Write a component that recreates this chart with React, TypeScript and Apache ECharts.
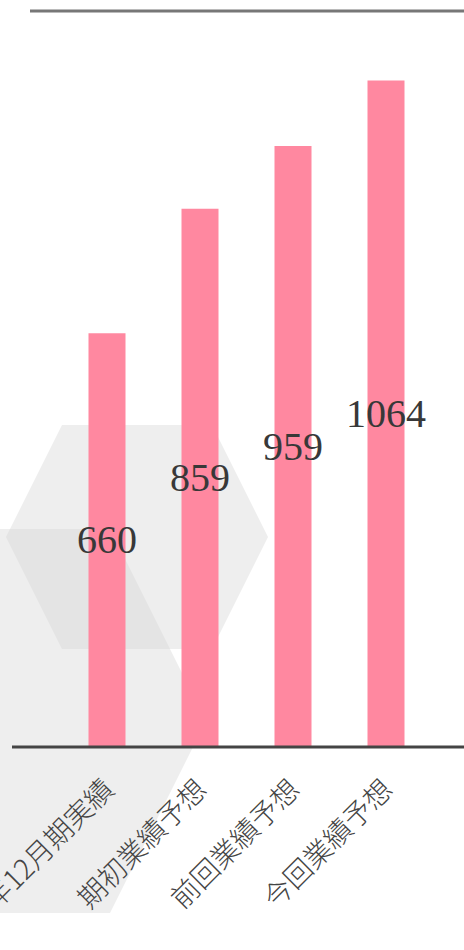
import React, { useEffect, useRef } from "react";
import * as echarts from "echarts";

const categories = ["2023年12月期実績", "期初業績予想", "前回業績予想", "今回業績予想"];
const values = [660, 859, 959, 1064];
const yMax = 1175;

export default function App() {
  const ref = useRef<HTMLDivElement>(null);
  useEffect(() => {
    const el = ref.current!;
    const chart = echarts.init(el, undefined, { renderer: "svg" });
    const hexA = [[6, 537], [62, 425], [212, 425], [268, 537], [212, 649], [62, 649]];
    const hexB = [[-242, 721], [-146, 529], [110, 529], [206, 721], [110, 913], [-146, 913]];
    const overlap = [[10, 529], [110, 529], [170, 649], [62, 649], [6, 537]];
    chart.setOption({
      animation: false,
      backgroundColor: "#ffffff",
      grid: { left: 60.5, right: 31.5, top: 11, bottom: 204, containLabel: false, outerBoundsMode: "none" },
      xAxis: {
        type: "category",
        data: categories,
        axisLine: { show: false },
        axisTick: { show: false },
        axisLabel: {
          rotate: 45,
          interval: 0,
          margin: 37,
          color: "#444444",
          fontSize: 28,
          fontWeight: 300,
          fontFamily: "Noto Sans CJK JP",
        },
      },
      yAxis: {
        type: "value",
        min: 0,
        max: yMax,
        show: false,
        splitLine: { show: false },
      },
      graphic: [
        { type: "polygon", z: -10, shape: { points: hexA }, style: { fill: "#eeeeee" }, silent: true },
        { type: "polygon", z: -10, shape: { points: hexB }, style: { fill: "#eeeeee" }, silent: true },
        { type: "polygon", z: -9, shape: { points: overlap }, style: { fill: "#e4e4e4" }, silent: true },
        { type: "line", z: 10, shape: { x1: 30, y1: 11, x2: 464, y2: 11 }, style: { stroke: "#777777", lineWidth: 3 } },
        { type: "line", z: 10, shape: { x1: 12, y1: 747, x2: 464, y2: 747 }, style: { stroke: "#444444", lineWidth: 3 } },
      ],
      series: [
        {
          type: "bar",
          data: values,
          barWidth: 37,
          itemStyle: { color: "#ff88a0" },
          label: {
            show: true,
            position: "inside",
            color: "#383838",
            fontSize: 40,
            fontFamily: "Liberation Serif",
          },
        },
      ],
    });
    return () => chart.dispose();
  }, []);
  return <div ref={ref} style={{ width: 464, height: 950, position: "absolute", left: 0, top: 0 }} />;
}
